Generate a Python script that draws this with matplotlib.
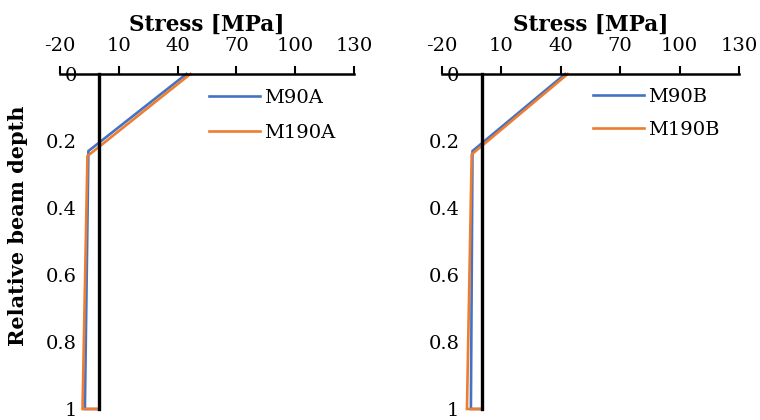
import matplotlib.pyplot as plt

plt.rcParams['font.family'] = 'DejaVu Serif'
plt.rcParams['axes.unicode_minus'] = False

# stress [MPa] vs relative beam depth
x_ticks = [-20, 10, 40, 70, 100, 130]
y_ticks = [0, 0.2, 0.4, 0.6, 0.8, 1]
y_ticklabels = ['0', '0.2', '0.4', '0.6', '0.8', '1']

m90a_stress = [44.5, -5.5, -7.3, 0]
m90a_depth = [0, 0.23, 1, 1]
m190a_stress = [46.5, -6.0, -8.5, 0]
m190a_depth = [0, 0.245, 1, 1]

m90b_stress = [42.2, -4.6, -5.4, 0]
m90b_depth = [0, 0.23, 1, 1]
m190b_stress = [43.5, -5.0, -7.4, 0]
m190b_depth = [0, 0.24, 1, 1]

blue = '#4472C4'
orange = '#ED7D31'

W, H = 760, 420
fig = plt.figure(figsize=(W / 100, H / 100), dpi=100)


def make_axes(x0, x1, y0, y1):
    return fig.add_axes([x0 / W, 1 - y1 / H, (x1 - x0) / W, (y1 - y0) / H])


panels = [
    (60, 354, [(m90a_stress, m90a_depth, blue, 'M90A'),
               (m190a_stress, m190a_depth, orange, 'M190A')], (209, 89), 0.85),
    (442, 739, [(m90b_stress, m90b_depth, blue, 'M90B'),
                (m190b_stress, m190b_depth, orange, 'M190B')], (593, 88), 0.75),
]

for x0, x1, series, leg_pos, spacing in panels:
    ax = make_axes(x0, x1, 74, 409)
    for xs, ys, col, lab in series:
        ax.plot(xs, ys, color=col, lw=1.9, label=lab, clip_on=False,
                solid_joinstyle='miter')
    ax.set_xlim(-20, 130)
    ax.set_ylim(1, 0)
    ax.set_xticks(x_ticks)
    ax.xaxis.tick_top()
    ax.tick_params(axis='x', direction='out', length=6, width=1.5,
                   pad=8, labelsize=14)
    ax.set_yticks(y_ticks)
    ax.set_yticklabels(y_ticklabels)
    ax.tick_params(axis='y', length=0, pad=16, labelsize=14)
    ax.spines['top'].set_linewidth(1.8)
    ax.spines['left'].set_position(('data', 0))
    ax.spines['left'].set_linewidth(2.4)
    ax.spines['right'].set_visible(False)
    ax.spines['bottom'].set_visible(False)
    ax.patch.set_alpha(0)
    ax.legend(frameon=False, loc='upper left',
              bbox_to_anchor=(leg_pos[0] / W, 1 - leg_pos[1] / H),
              bbox_transform=fig.transFigure, fontsize=14,
              handlelength=2.6, handletextpad=0.25, labelspacing=spacing,
              borderpad=0, borderaxespad=0)
    fig.text((x0 + x1) / 2 / W, 1 - 31 / H, 'Stress [MPa]', ha='center',
             va='baseline', weight='bold', fontsize=15.5)

fig.text(18 / W, 1 - 226 / H, 'Relative beam depth', rotation=90,
         ha='center', va='center', weight='bold', fontsize=15)

fig.savefig('out.png', dpi=100)
